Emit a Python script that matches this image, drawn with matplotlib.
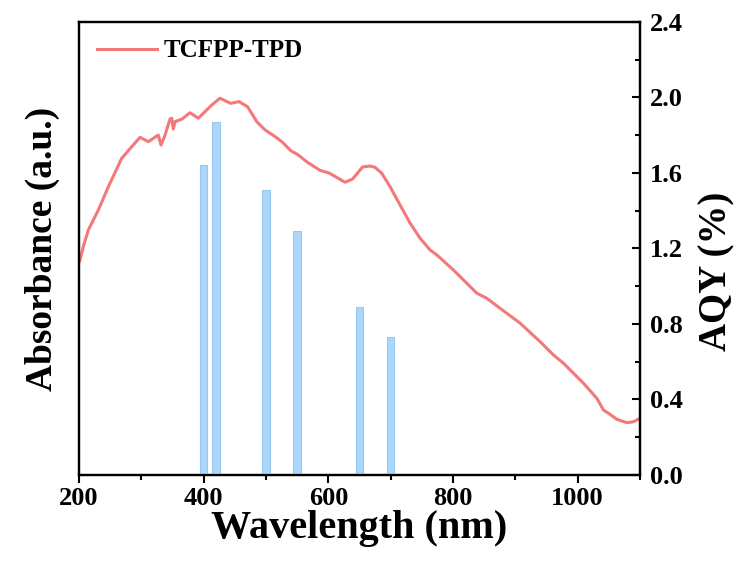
import numpy as np
import matplotlib
matplotlib.use("Agg")
import matplotlib.pyplot as plt
from matplotlib.ticker import MultipleLocator

plt.rcParams["font.family"] = ["Liberation Serif", "DejaVu Serif"]
plt.rcParams["font.weight"] = "bold"

# absorbance spectrum (arbitrary units)
wavelength = [200, 201.6, 206.9, 214.9, 231.0, 247.0, 268.5, 284.5, 297.9, 311.2,
              327.2, 331.6, 338.0, 346.0, 348.7, 351.3, 354.0, 365.3, 378.1, 391.4,
              399.4, 412.9, 426.2, 443.1, 456.7, 470.4, 485.1, 498.5, 514.5, 525.3,
              540.2, 550.6, 566.7, 586.7, 601.2, 626.8, 638.9, 655.0, 667.0, 675.0,
              685.8, 699.1, 715.2, 731.2, 747.3, 763.3, 774.1, 800.7, 838.3, 854.3,
              875.7, 907.8, 939.9, 961.2, 977.3, 1009.4, 1030.9, 1041.5, 1049.5, 1063.0,
              1079.0, 1089.6, 1100.0]
absorbance = [1.128, 1.139, 1.210, 1.298, 1.404, 1.527, 1.678, 1.739, 1.789, 1.766,
              1.801, 1.748, 1.801, 1.886, 1.890, 1.833, 1.872, 1.886, 1.919, 1.890,
              1.916, 1.960, 1.996, 1.969, 1.978, 1.951, 1.872, 1.828, 1.793, 1.766,
              1.717, 1.698, 1.656, 1.614, 1.600, 1.551, 1.568, 1.632, 1.637, 1.630,
              1.598, 1.527, 1.430, 1.334, 1.254, 1.192, 1.166, 1.086, 0.963, 0.936,
              0.883, 0.804, 0.706, 0.636, 0.592, 0.486, 0.406, 0.344, 0.327, 0.295,
              0.277, 0.282, 0.300]

# AQY bars
aqy_wavelength = [400, 420, 500, 550, 650, 700]
aqy_values = [1.64, 1.87, 1.51, 1.29, 0.89, 0.73]
aqy_ticks = [0.0, 0.4, 0.8, 1.2, 1.6, 2.0, 2.4]

fig = plt.figure(figsize=(7.4, 5.65), dpi=100)
ax = fig.add_axes([0.1068, 0.1593, 0.758, 0.8018])
ax2 = ax.twinx()

line, = ax.plot(wavelength, absorbance, color="#f47878", lw=2.2, label="TCFPP-TPD")
ax.set_xlim(200, 1100)
ax.set_ylim(0, 2.4)
ax.set_yticks([])
ax.xaxis.set_major_locator(MultipleLocator(200))
ax.xaxis.set_minor_locator(MultipleLocator(100))
ax.tick_params(axis="x", which="major", direction="out", length=6, width=1.5,
               labelsize=19, pad=3)
ax.tick_params(axis="x", which="minor", direction="out", length=3.5, width=1.5)
ax.set_xlabel("Wavelength (nm)", fontsize=29, fontweight="bold", labelpad=0)
ax.set_ylabel("Absorbance (a.u.)", fontsize=27, fontweight="bold", labelpad=14)

ax2.bar(aqy_wavelength, aqy_values, width=12, color="#acd7fa",
        edgecolor="#93c9f3", linewidth=0.8)
ax2.set_ylim(0, 2.4)
ax2.set_yticks(aqy_ticks)
ax2.set_yticklabels([f"{v:.1f}" for v in aqy_ticks])
ax2.yaxis.set_minor_locator(MultipleLocator(0.2))
ax2.tick_params(axis="y", which="major", direction="in", length=6, width=1.5,
                labelsize=19, pad=7)
ax2.tick_params(axis="y", which="minor", direction="in", length=3.5, width=1.5)
ax2.set_ylabel("AQY (%)", fontsize=28, fontweight="bold", labelpad=6)
ax2.yaxis.set_label_coords(1.105, 0.45)

for a in (ax, ax2):
    for s in a.spines.values():
        s.set_linewidth(1.6)

ax2.legend(handles=[line], loc="upper left", frameon=False, fontsize=18,
           handlelength=2.4, handletextpad=0.3, borderaxespad=0.3,
           bbox_to_anchor=(0.0, 1.0))

fig.savefig("out.png", dpi=100)
